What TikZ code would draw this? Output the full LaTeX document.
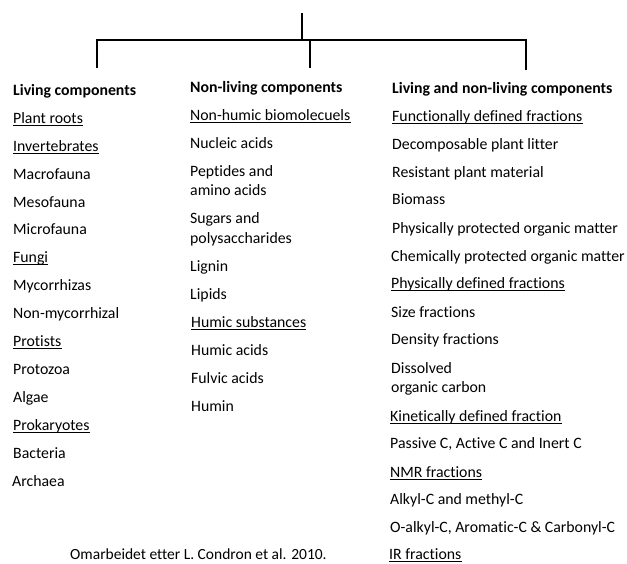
\documentclass[tikz,border=0pt]{standalone}
\usepackage{fontspec}
\setmainfont{Carlito}[Ligatures=NoCommon]

\begin{document}
\begin{tikzpicture}[x=1pt,y=-1pt,
  txt/.style={anchor=base west,inner sep=0pt,font=\fontsize{15.8}{18}\selectfont},
  head/.style={txt,font=\fontsize{15.8}{18}\selectfont\bfseries},
  sub/.style={txt,append after command={([yshift=-2.5pt]\tikzlastnode.base west) edge[line width=0.75pt] ([yshift=-2.5pt]\tikzlastnode.base east)}},
  branch/.style={line width=2.8pt}]

\useasboundingbox (0,0) rectangle (627,563);

% Tree
\coordinate (top) at (302,13);
\coordinate (bar) at (302,40);
\coordinate (dropL) at (97,68);
\coordinate (dropM) at (310,68);
\coordinate (dropR) at (526,70);
\draw[branch] (top) -- (bar);
\draw[branch] (dropL) |- (bar) -| (dropR);
\draw[branch] (bar -| dropM) -- (dropM);

% Living components
\node[head] (living) at (13,95) {Living components};
\node[sub] (roots) at (13,123) {Plant roots};
\node[sub] (invert) at (13,151) {Invertebrates};
\node[txt] (macro) at (13,179) {Macrofauna};
\node[txt] (meso) at (13,207) {Mesofauna};
\node[txt] (micro) at (13,234) {Microfauna};
\node[sub] (fungi) at (13,262) {Fungi};
\node[txt] (mycor) at (13,290) {Mycorrhizas};
\node[txt] (nonmycor) at (13,318) {Non-mycorrhizal};
\node[sub] (protists) at (13,346) {Protists};
\node[txt] (protozoa) at (13,374) {Protozoa};
\node[txt] (algae) at (13,402) {Algae};
\node[sub] (prokar) at (13,430) {Prokaryotes};
\node[txt] (bacteria) at (13,458) {Bacteria};
\node[txt] (archaea) at (12,486) {Archaea};

% Non-living components
\node[head] (nonliving) at (190,92) {Non-living components};
\node[sub] (nonhumic) at (190,120) {Non-humic biomolecuels};
\node[txt] (nucleic) at (190,148) {Nucleic acids};
\node[txt] (peptides) at (190,176) {Peptides and};
\node[txt] (amino) at (190,195) {amino acids};
\node[txt] (sugars) at (190,223) {Sugars and};
\node[txt] (polysac) at (190,243) {polysaccharides};
\node[txt] (lignin) at (190,271) {Lignin};
\node[txt] (lipids) at (190,299) {Lipids};
\node[sub] (humsub) at (191,327) {Humic substances};
\node[txt] (humic) at (191,355) {Humic acids};
\node[txt] (fulvic) at (191,383) {Fulvic acids};
\node[txt] (humin) at (191,411) {Humin};

% Living and non-living components
\node[head] (both) at (392,93) {Living and non-living components};
\node[sub] (functional) at (392,121) {Functionally defined fractions};
\node[txt] (decomp) at (392,149) {Decomposable plant litter};
\node[txt] (resist) at (392,177) {Resistant plant material};
\node[txt] (biomass) at (392,204) {Biomass};
\node[txt] (physprot) at (392,233) {Physically protected organic matter};
\node[txt] (chemprot) at (391,261) {Chemically protected organic matter};
\node[sub] (physdef) at (391,288) {Physically defined fractions};
\node[txt] (size) at (391,317) {Size fractions};
\node[txt] (density) at (391,344) {Density fractions};
\node[txt] (dissolved) at (391,373) {Dissolved};
\node[txt] (orgcarbon) at (391,392) {organic carbon};
\node[sub] (kinetic) at (390,421) {Kinetically defined fraction};
\node[txt] (passive) at (390,448) {Passive C, Active C and Inert C};
\node[sub] (nmr) at (390,477) {NMR fractions};
\node[txt] (alkyl) at (390,504) {Alkyl-C and methyl-C};
\node[txt] (oalkyl) at (390,532) {O-alkyl-C, Aromatic-C \& Carbonyl-C};
\node[sub] (ir) at (389,559) {IR fractions};

% Source
\node[txt,font=\fontsize{15.5}{18}\selectfont] (source) at (70,559) {Omarbeidet etter L. Condron et al. 2010.};

\end{tikzpicture}
\end{document}
